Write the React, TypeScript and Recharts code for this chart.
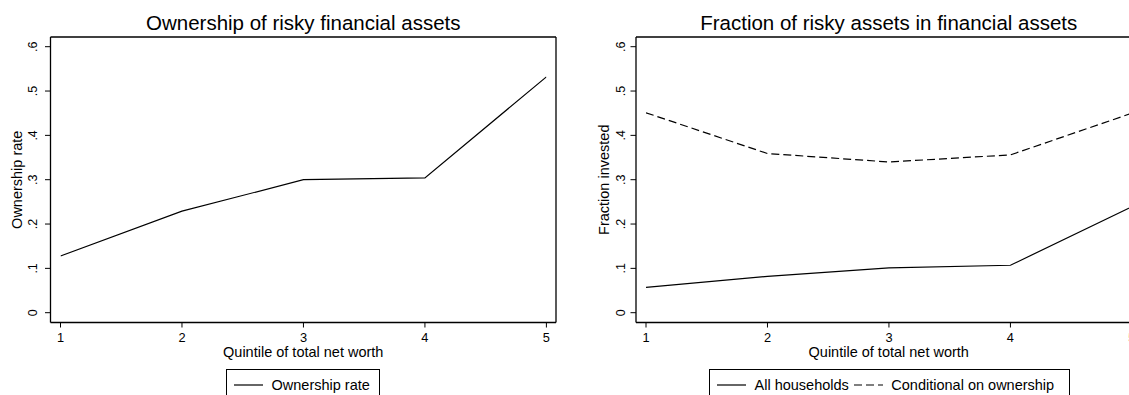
import React from 'react';
import { LineChart, Line, XAxis, YAxis, Legend, Label, CartesianGrid } from 'recharts';

const quintiles = [1, 2, 3, 4, 5];
const ownershipRate = [0.128, 0.229, 0.3, 0.304, 0.532];
const allHouseholds = [0.057, 0.082, 0.101, 0.107, 0.239];
const conditionalOnOwnership = [0.451, 0.359, 0.34, 0.356, 0.45];
const xTicks = [1, 2, 3, 4, 5];
const yTicks = [0, 0.1, 0.2, 0.3, 0.4, 0.5, 0.6];

const leftData = quintiles.map((q, i) => ({ q, own: ownershipRate[i] }));
const rightData = quintiles.map((q, i) => ({ q, all: allHouseholds[i], cond: conditionalOnOwnership[i] }));

const FONT = '"Liberation Sans", Arial, Helvetica, sans-serif';
const INK = '#000';

type Series = { key: string; name: string; dash?: string };

const fmtY = (v: number) => (v === 0 ? '0' : '.' + Math.round(v * 10));

const XTick = (props: any) => {
  const { x, y, payload } = props;
  return (
    <text x={x} y={y + 14.2} textAnchor="middle" fontSize={12.8} fontFamily={FONT} fill={INK}>
      {payload.value}
    </text>
  );
};

const makeYTick = (gap: number) => (props: any) => {
  const { x, y, payload } = props;
  const bx = x - gap;
  return (
    <text x={bx} y={y} transform={`rotate(-90 ${bx} ${y})`} textAnchor="middle" fontSize={12.5} fontFamily={FONT} fill={INK}>
      {fmtY(payload.value)}
    </text>
  );
};

const LegendBox = ({ series }: { series: Series[] }) => (
  <div
    style={{
      boxSizing: 'border-box',
      height: 32,
      width: '100%',
      border: '1px solid #000',
      background: '#fff',
      display: 'flex',
      alignItems: 'center',
      paddingLeft: 7,
      fontFamily: FONT,
      fontSize: 14.5,
      color: INK,
      whiteSpace: 'nowrap',
    }}
  >
    {series.map((s, i) => (
      <div key={s.key} style={{ display: 'flex', alignItems: 'center', marginLeft: i === 0 ? 0 : 5 }}>
        <svg width={29} height={4} style={{ display: 'block' }}>
          <line x1={0} y1={2} x2={29} y2={2} stroke={INK} strokeWidth={1.2} strokeDasharray={s.dash} />
        </svg>
        <span style={{ marginLeft: 8.5 }}>{s.name}</span>
      </div>
    ))}
  </div>
);

type PanelProps = {
  data: any[];
  series: Series[];
  title: string;
  yLabel: string;
  width: number;
  yAxisWidth: number;
  marginRight: number;
  yTickGap: number;
  yTitleX: number;
  legendLeft: number;
  legendWidth: number;
};

const Panel = (p: PanelProps) => {
  const YTick = makeYTick(p.yTickGap);
  return (
    <LineChart width={p.width} height={401} data={p.data} margin={{ top: 37, right: p.marginRight, bottom: 0, left: 0 }}>
      <CartesianGrid
        stroke={INK}
        strokeWidth={1.3}
        strokeDasharray=""
        horizontalCoordinatesGenerator={(a: any) => [a.offset.top]}
        verticalCoordinatesGenerator={(a: any) => [a.offset.left + a.offset.width]}
      />
      <XAxis
        dataKey="q"
        type="number"
        domain={[1, 5]}
        ticks={xTicks}
        interval={0}
        padding={{ left: 10, right: 9.6 }}
        height={46.5}
        tickSize={5}
        tickMargin={0}
        tick={<XTick />}
        axisLine={{ stroke: INK, strokeWidth: 1.3 }}
        tickLine={{ stroke: INK, strokeWidth: 1 }}
        allowDataOverflow
      >
        <Label
          content={(lp: any) => {
            const vb = lp.viewBox || {};
            const cx = vb.x + vb.width / 2;
            return (
              <g>
                <text x={cx} y={356.5} textAnchor="middle" fontSize={14.5} fontFamily={FONT} fill={INK}>
                  Quintile of total net worth
                </text>
                <text x={cx} y={30} textAnchor="middle" fontSize={20.5} fontFamily={FONT} fill={INK}>
                  {p.title}
                </text>
              </g>
            );
          }}
        />
      </XAxis>
      <YAxis
        type="number"
        domain={[0, 0.6]}
        ticks={yTicks}
        interval={0}
        padding={{ top: 9.7, bottom: 9.8 }}
        width={p.yAxisWidth}
        tickSize={5.5}
        tickMargin={0}
        tick={<YTick />}
        axisLine={{ stroke: INK, strokeWidth: 1.3 }}
        tickLine={{ stroke: INK, strokeWidth: 1 }}
      >
        <Label
          content={(lp: any) => {
            const vb = lp.viewBox || {};
            const cy = vb.y + vb.height / 2;
            return (
              <text x={p.yTitleX} y={cy} transform={`rotate(-90 ${p.yTitleX} ${cy})`} textAnchor="middle" fontSize={14.5} fontFamily={FONT} fill={INK}>
                {p.yLabel}
              </text>
            );
          }}
        />
      </YAxis>
      <Legend
        verticalAlign="bottom"
        wrapperStyle={{ left: p.legendLeft, width: p.legendWidth, bottom: 0, height: 32 }}
        content={() => <LegendBox series={p.series} />}
      />
      {p.series.map((s) => (
        <Line
          key={s.key}
          dataKey={s.key}
          name={s.name}
          type="linear"
          stroke={INK}
          strokeWidth={1.2}
          strokeDasharray={s.dash}
          dot={false}
          activeDot={false}
          isAnimationActive={false}
        />
      ))}
    </LineChart>
  );
};

const leftSeries: Series[] = [{ key: 'own', name: 'Ownership rate' }];
const rightSeries: Series[] = [
  { key: 'all', name: 'All households' },
  { key: 'cond', name: 'Conditional on ownership', dash: '8 4' },
];

export default function App() {
  return (
    <div style={{ position: 'absolute', left: 0, top: 0, width: 1129, height: 395, overflow: 'hidden', background: '#fff' }}>
      <div style={{ position: 'absolute', left: 0, top: 0 }}>
        <Panel
          data={leftData}
          series={leftSeries}
          title="Ownership of risky financial assets"
          yLabel="Ownership rate"
          width={564}
          yAxisWidth={50.5}
          marginRight={8}
          yTickGap={8.3}
          yTitleX={21.7}
          legendLeft={226}
          legendWidth={154}
        />
      </div>
      <div style={{ position: 'absolute', left: 564, top: 0 }}>
        <Panel
          data={rightData}
          series={rightSeries}
          title="Fraction of risky assets in financial assets"
          yLabel="Fraction invested"
          width={590}
          yAxisWidth={72}
          marginRight={12.5}
          yTickGap={5.5}
          yTitleX={45.3}
          legendLeft={145}
          legendWidth={361}
        />
      </div>
    </div>
  );
}
